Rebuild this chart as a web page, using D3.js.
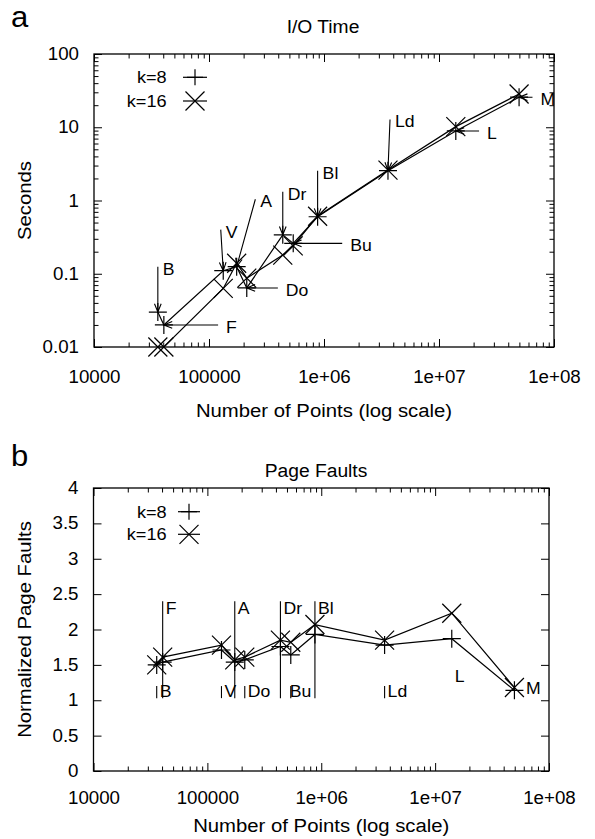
<!DOCTYPE html>
<html>
<head>
<meta charset="utf-8">
<script src="https://cdn.jsdelivr.net/npm/d3@7"></script>
<style>
body { margin: 0; background: #fff; }
text { font-family: "Liberation Sans", Arial, sans-serif; fill: #000; }
</style>
</head>
<body>
<div id="chart"></div>
<script>
/*
Two gnuplot-style panels: I/O time and page faults vs number of points
*/

var svgWidth = 595,
    svgHeight = 839;

// ---- data ----
var names = ["B", "F", "V", "A", "Do", "Dr", "Bu", "Bl", "Ld", "L", "M"];
var numPoints = [35900, 40500, 133000, 174000, 213000, 438000, 540000, 880000, 3600000, 14000000, 49700000];

var ioTimeK8  = [0.030, 0.020, 0.11, 0.125, 0.064, 0.34, 0.26, 0.60, 2.55, 8.9, 25.7];
var ioTimeK16 = [0.010, 0.010, 0.063, 0.139, 0.087, 0.18, 0.24, 0.61, 2.6, 10.2, 28.4];

var faultsK8  = [1.50, 1.54, 1.71, 1.54, 1.57, 1.76, 1.64, 1.93, 1.78, 1.87, 1.14];
var faultsK16 = [1.50, 1.61, 1.78, 1.57, 1.61, 1.85, 1.82, 2.07, 1.85, 2.23, 1.18];

// where each I/O-time arrow starts (label sits next to it)
var ioArrowX = [35900, 120000, 126500, 253000, 397000, 438000, 1440000, 880000, 3750000, 22300000, 65000000];
var ioArrowY = [0.125, 0.020, 0.40, 1.04, 0.064, 1.32, 0.26, 2.55, 12.8, 8.9, 25.7];

// page fault labels: label position, and top of the vertical marker line (null = no line)
var faultLabelX = [35900, 40500, 133000, 174000, 213000, 438000, 498000, 880000, 3600000, 14000000, 59000000];
var faultLabelY = [1.13, 2.3, 1.13, 2.3, 1.13, 2.3, 1.13, 2.3, 1.13, 1.34, 1.18];
var faultLineTop = [1.2, 2.4, 1.2, 2.4, 1.2, 2.4, 1.2, 2.4, 1.2, null, null];
var faultLineBottom = 1.03;

// ticks
var xTicks = [1e4, 1e5, 1e6, 1e7, 1e8];
var xTickLabels = ["10000", "100000", "1e+06", "1e+07", "1e+08"];
var ioTicks = [0.01, 0.1, 1, 10, 100];
var ioTickLabels = ["0.01", "0.1", "1", "10", "100"];
var faultTicks = [0, 0.5, 1, 1.5, 2, 2.5, 3, 3.5, 4];
var faultTickLabels = ["0", "0.5", "1", "1.5", "2", "2.5", "3", "3.5", "4"];

var sx = 1.07; // the original font is a little wide

var svg = d3.select("#chart")
    .append("svg")
        .attr("width", svgWidth)
        .attr("height", svgHeight);

function minorLog(lo, hi) {
    var out = [];
    for (var e = lo; e < hi; e++) {
        for (var m = 2; m <= 9; m++) out.push(m * Math.pow(10, e));
    }
    return out;
}

function addText(parent, x, y, str, size, anchor) {
    return parent.append("text")
        .attr("transform", `translate(${x},${y}) scale(${sx},1)`)
        .attr("font-size", size + "px")
        .attr("text-anchor", anchor || "start")
        .text(str);
}

function marker(type, s) {
    if (type == "plus") return `M${-s},0H${s}M0,${-s}V${s}`;
    return `M${-s},${-s}L${s},${s}M${-s},${s}L${s},${-s}`;
}

// draw box, ticks on all four sides (gnuplot mirror style)
function drawFrame(g, x, y, w, h, opt) {
    var fmtX = d => xTickLabels[xTicks.indexOf(d)];
    var fmtY = d => opt.yLabels[opt.yTicks.indexOf(d)];

    g.append("g").attr("transform", `translate(0,${h})`)
        .call(d3.axisBottom(x).tickValues(xTicks).tickSize(-8).tickPadding(opt.xPad).tickFormat(fmtX));
    g.append("g").attr("transform", `translate(0,${h})`)
        .call(d3.axisBottom(x).tickValues(minorLog(4, 8)).tickSize(-4.5).tickFormat(""));
    g.append("g")
        .call(d3.axisTop(x).tickValues(xTicks).tickSize(-8).tickFormat(""));
    g.append("g")
        .call(d3.axisTop(x).tickValues(minorLog(4, 8)).tickSize(-4.5).tickFormat(""));

    g.append("g")
        .call(d3.axisLeft(y).tickValues(opt.yTicks).tickSize(-8).tickPadding(14).tickFormat(fmtY));
    g.append("g").attr("transform", `translate(${w},0)`)
        .call(d3.axisRight(y).tickValues(opt.yTicks).tickSize(-8).tickFormat(""));
    if (opt.yMinor) {
        g.append("g").call(d3.axisLeft(y).tickValues(opt.yMinor).tickSize(-4.5).tickFormat(""));
        g.append("g").attr("transform", `translate(${w},0)`)
            .call(d3.axisRight(y).tickValues(opt.yMinor).tickSize(-4.5).tickFormat(""));
    }

    g.selectAll(".domain").remove();
    g.selectAll(".tick line").attr("stroke", "#000").attr("stroke-width", 1);
    g.selectAll(".tick text")
        .attr("font-size", "17.5px")
        .attr("font-family", "Liberation Sans, Arial, sans-serif")
        .attr("fill", "#000")
        .attr("transform", `scale(${sx},1)`);

    g.append("rect")
        .attr("width", w)
        .attr("height", h)
        .attr("fill", "none")
        .attr("stroke", "#000")
        .attr("stroke-width", 1.3);
}

function drawSeries(g, x, y, values, type, size) {
    var line = d3.line()
        .x((d, i) => x(numPoints[i]))
        .y(d => y(d));
    g.append("path")
        .datum(values)
        .attr("d", line)
        .attr("fill", "none")
        .attr("stroke", "#000")
        .attr("stroke-width", 1.2);
    g.selectAll(null)
        .data(values)
        .enter()
        .append("path")
            .attr("transform", (d, i) => `translate(${x(numPoints[i])},${y(d)})`)
            .attr("d", marker(type, size))
            .attr("stroke", "#000")
            .attr("stroke-width", 1.2)
            .attr("fill", "none");
}

function drawLegend(g, tx, lx1, lx2, y1, y2) {
    [["k=8", "plus", y1], ["k=16", "cross", y2]].forEach(r => {
        addText(g, tx, r[2] + 6, r[0], 17, "end");
        g.append("line")
            .attr("x1", lx1).attr("x2", lx2)
            .attr("y1", r[2]).attr("y2", r[2])
            .attr("stroke", "#000").attr("stroke-width", 1.2);
        g.append("path")
            .attr("transform", `translate(${(lx1 + lx2) / 2},${r[2]})`)
            .attr("d", marker(r[1], r[1] == "plus" ? 8 : 9.5))
            .attr("stroke", "#000").attr("stroke-width", 1.2).attr("fill", "none");
    });
}

//--------------------------------------------------------------------------------
// panel a: I/O time
//--------------------------------------------------------------------------------
var mA = {left: 94, right: 41, top: 54, bottom: 492};
var wA = svgWidth - mA.left - mA.right,
    hA = svgHeight - mA.top - mA.bottom;

var gA = svg.append("g").attr("transform", `translate(${mA.left},${mA.top})`);

var xA = d3.scaleLog().domain([1e4, 1e8]).range([0, wA]);
var yA = d3.scaleLog().domain([0.01, 100]).range([hA, 0]);

drawFrame(gA, xA, yA, wA, hA, {
    yTicks: ioTicks, yLabels: ioTickLabels, yMinor: minorLog(-2, 2), xPad: 24
});

drawSeries(gA, xA, yA, ioTimeK8, "plus", 9);
drawSeries(gA, xA, yA, ioTimeK16, "cross", 9.5);

// arrows from labels to the k=8 points
names.forEach((n, i) => {
    var x1 = xA(ioArrowX[i]), y1 = yA(ioArrowY[i]);
    var x2 = xA(numPoints[i]), y2 = yA(ioTimeK8[i]);
    var ang = Math.atan2(y2 - y1, x2 - x1);
    var hl = 9, ha = 0.38;
    var p = `M${x1},${y1}L${x2},${y2}` +
        `M${x2 - hl * Math.cos(ang - ha)},${y2 - hl * Math.sin(ang - ha)}L${x2},${y2}` +
        `L${x2 - hl * Math.cos(ang + ha)},${y2 - hl * Math.sin(ang + ha)}`;
    gA.append("path").attr("d", p).attr("fill", "none")
        .attr("stroke", "#000").attr("stroke-width", 1.1);
    var horiz = Math.abs(y1 - y2) < 1;
    addText(gA, x1 + (horiz ? 8 : 5), y1 + 8, n, 16.5, "start");
});

drawLegend(gA, 166.7 - mA.left, 183 - mA.left, 207 - mA.left, 77.3 - mA.top, 101 - mA.top);

addText(svg, 323, 33, "I/O Time", 18, "middle");
addText(svg, 11, 27, "a", 29, "start");
addText(svg, mA.left + wA / 2, 417, "Number of Points (log scale)", 19, "middle");
svg.append("text")
    .attr("transform", `translate(31,${mA.top + hA / 2}) rotate(-90) scale(${sx},1)`)
    .attr("font-size", "19px")
    .attr("text-anchor", "middle")
    .text("Seconds");

//--------------------------------------------------------------------------------
// panel b: page faults
//--------------------------------------------------------------------------------
var mB = {left: 93.5, right: 46, top: 488, bottom: 68};
var wB = svgWidth - mB.left - mB.right,
    hB = svgHeight - mB.top - mB.bottom;

var gB = svg.append("g").attr("transform", `translate(${mB.left},${mB.top})`);

var xB = d3.scaleLog().domain([1e4, 1e8]).range([0, wB]);
var yB = d3.scaleLinear().domain([0, 4]).range([hB, 0]);

drawFrame(gB, xB, yB, wB, hB, {
    yTicks: faultTicks, yLabels: faultTickLabels, yMinor: null, xPad: 21
});

// vertical marker lines and labels
names.forEach((n, i) => {
    var x = xB(numPoints[i]);
    if (faultLineTop[i] != null) {
        gB.append("line")
            .attr("x1", x).attr("x2", x)
            .attr("y1", yB(faultLineBottom)).attr("y2", yB(faultLineTop[i]))
            .attr("stroke", "#000").attr("stroke-width", 1.1);
    }
    addText(gB, xB(faultLabelX[i]) + 3, yB(faultLabelY[i]) + 6, n, 16.5, "start");
});

drawSeries(gB, xB, yB, faultsK8, "plus", 9);
drawSeries(gB, xB, yB, faultsK16, "cross", 9.5);

drawLegend(gB, 166.7 - mB.left, 178 - mB.left, 200 - mB.left, 511.7 - mB.top, 534.3 - mB.top);

addText(svg, 316, 476.5, "Page Faults", 18, "middle");
addText(svg, 11, 466, "b", 29, "start");
addText(svg, mB.left + wB / 2, 832, "Number of Points (log scale)", 19, "middle");
svg.append("text")
    .attr("transform", `translate(31,${mB.top + hB / 2}) rotate(-90) scale(${sx},1)`)
    .attr("font-size", "19px")
    .attr("text-anchor", "middle")
    .text("Normalized Page Faults");
</script>
</body>
</html>
